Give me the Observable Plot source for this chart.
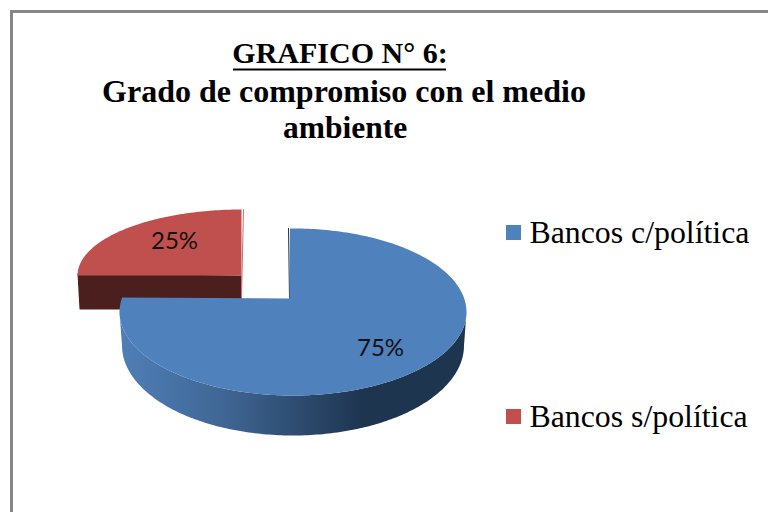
<!DOCTYPE html>
<html><head><meta charset="utf-8">
<script src="https://cdn.jsdelivr.net/npm/d3@7"></script>
<script src="https://cdn.jsdelivr.net/npm/@observablehq/plot@0.6"></script>
<style>html,body{margin:0;padding:0;background:#fff}svg{display:block}</style>
</head><body><div id="chart"></div>
<script>
const categories = ["Bancos c/política", "Bancos s/política"];
const values = [75, 25];
const labels = ["75%", "25%"];
const colors = ["#4f81bd", "#c0504d"];
const titleLines = ["GRAFICO N° 6:", "Grado de compromiso con el medio", "ambiente"];

const total = d3.sum(values);
const fracs = d3.cumsum(values).map(v => v / total);
const deg = Math.PI / 180;
function arcPts(a0, a1, cx, cy, rx, ry) {
  const n = Math.max(8, Math.round(Math.abs(a1 - a0)));
  return d3.range(n + 1).map(i => {
    const a = (a0 + (a1 - a0) * i / n) * deg;
    return {x: cx + rx * Math.cos(a), y: cy + ry * Math.sin(a)};
  });
}
// blue slice (first value): perspective-skewed ellipse
const blueStart = -91, blueSweep = 281 / fracs[0];
const blueEnd = blueStart + fracs[0] * blueSweep;
const blueFace = [{x: 289, y: 298}, ...arcPts(blueStart, blueEnd, 292.5, 311.5, 173.5, 83.5), {x: 289, y: 298}];
const blueWall = [
  ...arcPts(0, 180, 292.5, 311.5, 173.5, 83.5),
  ...arcPts(180, 0, 292.5, 345, 171, 90)
];
// red slice (second value): exploded up-left
const redSweep = 90 / (fracs[1] - fracs[0]);
const redFace = [{x: 241, y: 275}, ...arcPts(180, 180 + (fracs[1] - fracs[0]) * redSweep, 241, 275, 164, 66), {x: 241, y: 275}];
const redWall = [{x: 77, y: 273}, {x: 241, y: 275}, {x: 241, y: 309}, {x: 79, y: 309}, {x: 77, y: 273}];

function gradient() {
  const g = d3.create("svg:linearGradient").attr("id", "wall").attr("x1", 0).attr("x2", 1).attr("y1", 0).attr("y2", 0);
  [[0, "#4f7fb8"], [0.3, "#3f6694"], [0.7, "#1e3550"], [1, "#1e3550"]].forEach(([o, c]) =>
    g.append("stop").attr("offset", o).attr("stop-color", c));
  const d = d3.create("svg:defs");
  d.node().appendChild(g.node());
  return d.node();
}
const serif = "'Liberation Serif', serif";
const title = titleLines.map((t, i) => ({t, x: [339.5, 343.5, 344.5][i], y: [53, 91, 127][i], s: [30, 32, 31.5][i]}));
const legend = categories.map((c, i) => ({c, color: colors[i], y: [232, 416][i]}));
const pct = labels.map((t, i) => ({t, x: [380, 174][i], y: [348, 241][i]}));

const plot = Plot.plot({
  width: 768, height: 512, margin: 0,
  x: {domain: [0, 768], range: [0, 768], axis: null},
  y: {domain: [0, 512], range: [0, 512], axis: null},
  marks: [
    gradient,
    Plot.rect([0], {x1: 11.5, x2: 790, y1: 11.5, y2: 540, stroke: "#868686", strokeWidth: 3, fill: "white"}),
    Plot.line(redWall, {x: "x", y: "y", fill: "#4a1f1d", stroke: "none"}),
    Plot.line(redFace, {x: "x", y: "y", fill: colors[1], stroke: "none"}),
    Plot.line([{x: 243, y: 209}, {x: 241, y: 298}], {x: "x", y: "y", stroke: "#c9706d", strokeWidth: 1}),
    Plot.line(blueWall, {x: "x", y: "y", fill: "url(#wall)", stroke: "none"}),
    Plot.line([{x: 288, y: 228}, {x: 289, y: 298}], {x: "x", y: "y", stroke: "#1e3550", strokeWidth: 1}),
    Plot.line(blueFace, {x: "x", y: "y", fill: colors[0], stroke: "none"}),
    Plot.text(pct, {x: "x", y: "y", text: "t", fontSize: 24, fontFamily: "Lato, sans-serif", fill: "#111"}),
    Plot.text(title, {x: "x", y: "y", text: "t", fontSize: "s", fontWeight: "bold", fontFamily: serif, fill: "black"}),
    Plot.ruleY([69], {x1: 233, x2: 446, stroke: "black", strokeWidth: 2}),
    Plot.dot(legend, {x: 513, y: "y", symbol: "square", r: 8.5, fill: "color", stroke: "none"}),
    Plot.text(legend, {x: 529, y: "y", text: "c", textAnchor: "start", fontSize: 31.8, fontFamily: serif, fill: "black"})
  ]
});
document.getElementById("chart").appendChild(plot);
</script></body></html>
